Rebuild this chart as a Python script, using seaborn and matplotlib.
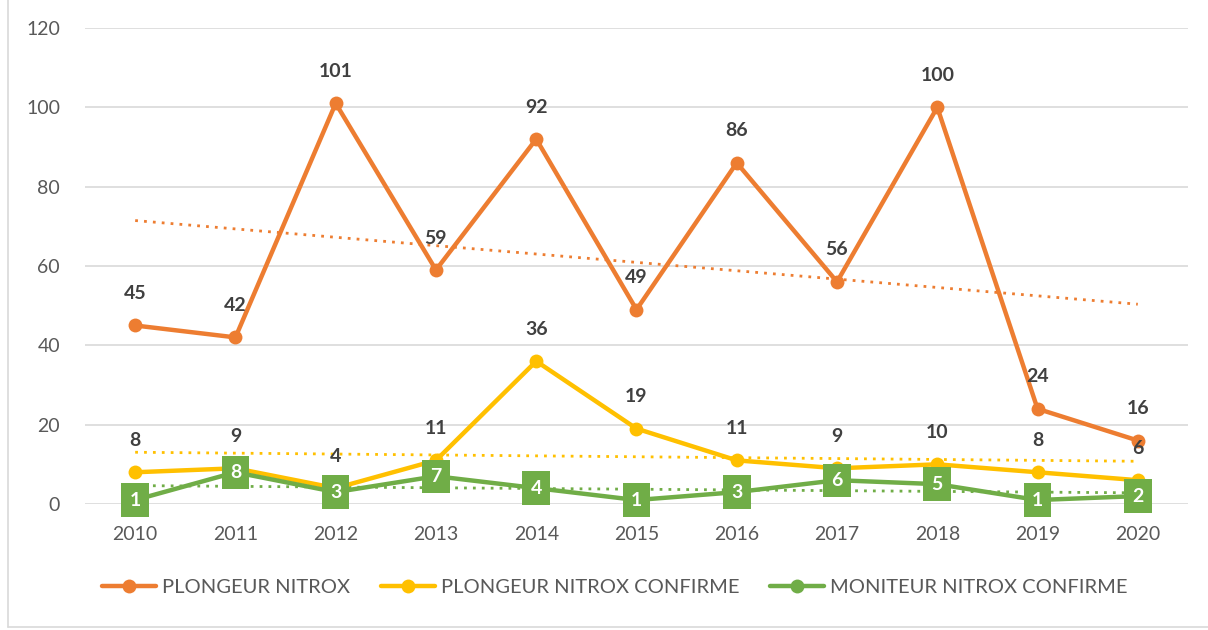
import numpy as np
import pandas as pd
import seaborn as sns
import matplotlib.pyplot as plt
from matplotlib.lines import Line2D

# --- DATA ---
YEARS = [2010, 2011, 2012, 2013, 2014, 2015, 2016, 2017, 2018, 2019, 2020]
PLONGEUR_NITROX = [45, 42, 101, 59, 92, 49, 86, 56, 100, 24, 16]
PLONGEUR_CONFIRME = [8, 9, 4, 11, 36, 19, 11, 9, 10, 8, 6]
MONITEUR_CONFIRME = [1, 8, 3, 7, 4, 1, 3, 6, 5, 1, 2]
SERIES_NAMES = ["PLONGEUR NITROX", "PLONGEUR NITROX CONFIRME", "MONITEUR NITROX CONFIRME"]
Y_TICKS = [0, 20, 40, 60, 80, 100, 120]

COLORS = ["#ed7d31", "#ffc000", "#70ad47"]
TEXT_DARK = "#404040"
TEXT_GREY = "#595959"


def main():
    sns.set_theme(style="white")
    plt.rcParams['font.family'] = ['Lato', 'DejaVu Sans']

    fig = plt.figure(figsize=(12.08, 6.3), dpi=100)
    ax = fig.add_axes([0.0704, 0.2, 0.913, 0.7556])

    all_values = [PLONGEUR_NITROX, PLONGEUR_CONFIRME, MONITEUR_CONFIRME]
    df = pd.DataFrame({"year": YEARS})
    for name, vals in zip(SERIES_NAMES, all_values):
        df[name] = vals

    # trend lines (linear, dotted)
    for name, col in zip(SERIES_NAMES, COLORS):
        sns.regplot(data=df, x="year", y=name, ax=ax, scatter=False, ci=None,
                    line_kws=dict(color=col, lw=2, ls=(0, (1, 2.2)), zorder=2))

    # main lines
    for name, col in zip(SERIES_NAMES, COLORS):
        sns.lineplot(data=df, x="year", y=name, ax=ax, color=col, lw=3.2,
                     marker="o", markersize=10, markeredgewidth=0, zorder=3)

    # labels above points for first two series
    for vals in all_values[:2]:
        for x, v in zip(YEARS, vals):
            ax.annotate(str(v), (x, v), xytext=(0, 23), textcoords="offset points",
                        ha="center", va="center", fontsize=14, fontweight="bold",
                        color=TEXT_DARK, zorder=6)

    # green boxed labels
    for x, v in zip(YEARS, MONITEUR_CONFIRME):
        ax.annotate(str(v), (x, v), ha="center", va="center", fontsize=14,
                    fontweight="bold", color="white", zorder=7,
                    bbox=dict(boxstyle="square,pad=0.42", fc=COLORS[2], ec="none"))

    ax.set_xlim(YEARS[0] - 0.5, YEARS[-1] + 0.5)
    ax.set_ylim(0, 120)
    ax.set_xticks(YEARS)
    ax.set_xticklabels([str(y) for y in YEARS])
    ax.set_yticks(Y_TICKS)
    ax.tick_params(axis="both", length=0, labelsize=14, labelcolor=TEXT_GREY)
    ax.tick_params(axis="y", pad=18)
    ax.tick_params(axis="x", pad=16)
    ax.set_xlabel("")
    ax.set_ylabel("")
    ax.grid(axis="y", color="#d9d9d9", lw=1.2)
    ax.set_axisbelow(True)
    for s in ax.spines.values():
        s.set_visible(False)

    handles = [Line2D([], [], color=c, lw=3.2, marker="o", markersize=10,
                      markeredgewidth=0) for c in COLORS]
    fig.legend(handles, SERIES_NAMES, loc="center", bbox_to_anchor=(0.509, 0.068),
               ncol=3, frameon=False, fontsize=14.5, labelcolor=TEXT_GREY,
               handlelength=2.7, columnspacing=1.5, handletextpad=0.3)

    # outer chart border
    fig.add_artist(Line2D([8 / 1208, 8 / 1208], [3 / 630, 1.0], color="#d9d9d9",
                          lw=1.2, transform=fig.transFigure))
    fig.add_artist(Line2D([8 / 1208, 1.0], [3 / 630, 3 / 630], color="#d9d9d9",
                          lw=1.2, transform=fig.transFigure))

    fig.savefig("out.png", dpi=100)


if __name__ == '__main__':
    main()
